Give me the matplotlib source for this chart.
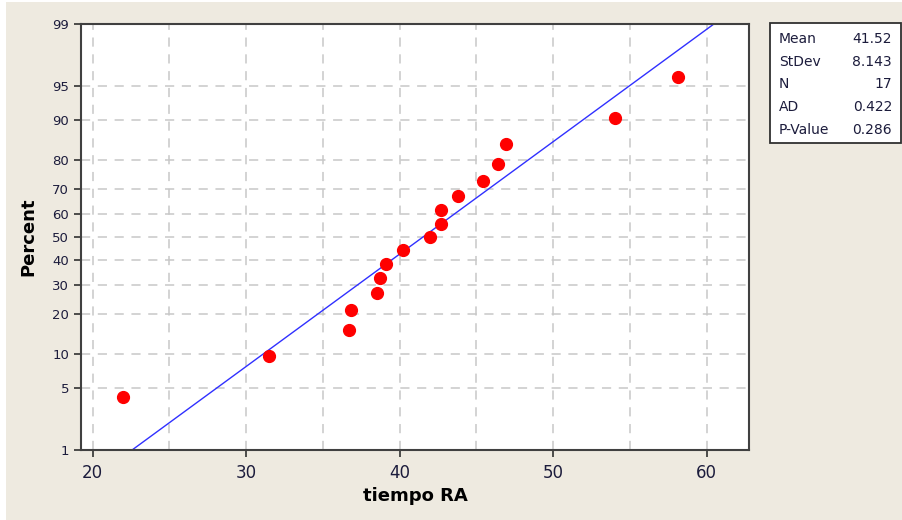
#!/usr/bin/env python3

import numpy as np
import matplotlib
matplotlib.use("Agg")
import matplotlib.pyplot as plt
from matplotlib.patches import Rectangle
from statistics import NormalDist

# Data
tiempo_ra = [22.0, 31.5, 36.7, 36.8, 38.5, 38.7, 39.1, 40.2, 42.0, 42.7,
             42.7, 43.8, 45.4, 46.4, 46.9, 54.0, 58.1]
percent = [4.02, 9.77, 15.52, 21.26, 27.01, 32.76, 38.51, 44.25, 50.00, 55.75,
           61.49, 67.24, 72.99, 78.74, 84.48, 90.23, 95.98]

mean_val = 41.52
stdev_val = 8.143
stat_names = ["Mean", "StDev", "N", "AD", "P-Value"]
stat_values = ["41.52", "8.143", "17", "0.422", "0.286"]

y_ticks = [1, 5, 10, 20, 30, 40, 50, 60, 70, 80, 90, 95, 99]
x_ticks = [20, 30, 40, 50, 60]
x_grid = [20, 25, 30, 35, 40, 45, 50, 55, 60]

_nd = NormalDist()


def _ppf_scalar(p):
    if not np.isfinite(p):
        return np.nan
    return _nd.inv_cdf(min(max(p, 1e-9), 100 - 1e-9) / 100.0)


def _cdf_scalar(z):
    if not np.isfinite(z):
        return np.nan
    return _nd.cdf(z) * 100.0


_ppf = np.vectorize(_ppf_scalar, otypes=[float])
_cdf = np.vectorize(_cdf_scalar, otypes=[float])


def forward(p):
    return _ppf(np.asarray(p, dtype=float))


def inverse(z):
    return _cdf(np.asarray(z, dtype=float))


bg = "#eeeae0"
tick_color = "#1c1c3c"

fig = plt.figure(figsize=(9.02, 5.2), dpi=100, facecolor="white")
fig.patches.append(Rectangle((6 / 902, 0), 1, 1 - 2 / 520, transform=fig.transFigure,
                             facecolor=bg, edgecolor="none", zorder=-10))

ax = fig.add_axes([81 / 902, 1 - 450 / 520, (749 - 81) / 902, (450 - 24) / 520])
ax.set_yscale("function", functions=(forward, inverse))
ax.set_xlim(19.25, 62.75)
ax.set_ylim(1, 99)

# grid
for g in x_grid:
    ax.axvline(g, color="#c8c8c8", lw=1.1, ls=(0, (6, 5)), zorder=1)
for g in y_ticks[1:-1]:
    ax.axhline(g, color="#c8c8c8", lw=1.1, ls=(0, (6, 5)), zorder=1)

# fitted line
pline = np.array([0.5, 1, 5, 10, 50, 90, 95, 99, 99.5])
xline = mean_val + stdev_val * forward(pline)
ax.plot(xline, pline, color="#3030ff", lw=1, zorder=2)

ax.plot(tiempo_ra, percent, "o", color="#ff0000", markersize=8.5, zorder=3)

ax.set_yticks(y_ticks)
ax.set_yticklabels([str(t) for t in y_ticks])
ax.yaxis.set_minor_locator(matplotlib.ticker.NullLocator())
ax.set_xticks(x_ticks)
ax.tick_params(axis="both", direction="out", length=5, width=1.2, color="#303030",
               labelcolor=tick_color)
ax.tick_params(axis="y", labelsize=9.5)
ax.tick_params(axis="x", labelsize=12, pad=5)

for s in ax.spines.values():
    s.set_color("#404040")
    s.set_linewidth(1.5)

ax.set_xlabel("tiempo RA", fontsize=13, fontweight="bold", labelpad=4)
ax.set_ylabel("Percent", fontsize=13, fontweight="bold", labelpad=11)

# stats box
fig.patches.append(Rectangle((770 / 902, 1 - 143 / 520), 131 / 902, 120 / 520,
                             transform=fig.transFigure, facecolor="white",
                             edgecolor="#303030", lw=1.3, zorder=5))
row_y = [39, 62, 84, 107, 130]
for name, val, yy in zip(stat_names, stat_values, row_y):
    fig.text(779 / 902, 1 - yy / 520, name, ha="left", va="center",
             fontsize=10, color=tick_color, zorder=6)
    fig.text(892 / 902, 1 - yy / 520, val, ha="right", va="center",
             fontsize=10, color=tick_color, zorder=6)

fig.savefig("out.png", dpi=100, facecolor=fig.get_facecolor())
